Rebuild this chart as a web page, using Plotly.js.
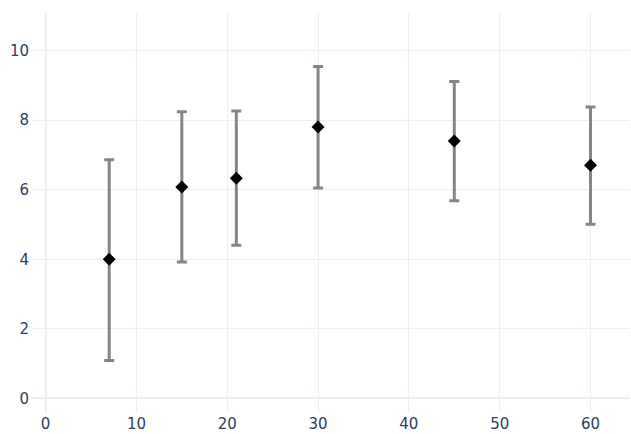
<!DOCTYPE html>
<html>
<head>
<meta charset="utf-8">
<script src="https://cdn.plot.ly/plotly-3.0.1.min.js"></script>
<style>html,body{margin:0;padding:0;background:#fff;}#chart{width:631px;height:434px;}</style>
</head>
<body>
<div id="chart"></div>
<script>
const xValues = [7, 15, 21, 30, 45, 60];
const yValues = [4.0, 6.08, 6.33, 7.8, 7.4, 6.7];
const upperValues = [6.86, 8.24, 8.26, 9.54, 9.11, 8.38];
const lowerValues = [1.09, 3.92, 4.40, 6.05, 5.68, 5.01];

const errPlus = upperValues.map((u, i) => u - yValues[i]);
const errMinus = lowerValues.map((l, i) => yValues[i] - l);

const trace = {
  x: xValues,
  y: yValues,
  type: 'scatter',
  mode: 'markers',
  marker: {symbol: 'diamond', color: '#000000', size: 10},
  error_y: {
    type: 'data',
    symmetric: false,
    array: errPlus,
    arrayminus: errMinus,
    color: '#858585',
    thickness: 3,
    width: 5
  },
  showlegend: false
};

const layout = {
  width: 631,
  height: 434,
  margin: {l: 32, r: 1, t: 13, b: 21},
  paper_bgcolor: '#ffffff',
  plot_bgcolor: '#ffffff',
  font: {family: 'DejaVu Sans, Verdana, sans-serif', size: 15, color: '#2a3f5f'},
  xaxis: {
    range: [-1.5, 64.35],
    dtick: 10,
    tick0: 0,
    gridcolor: '#EBF0F8',
    zeroline: true,
    zerolinecolor: '#EBF0F8',
    zerolinewidth: 2,
    showline: false,
    ticks: '',
    ticklabelstandoff: 0
  },
  yaxis: {
    range: [-0.42, 11.08],
    dtick: 2,
    tick0: 0,
    gridcolor: '#EBF0F8',
    zeroline: true,
    zerolinecolor: '#EBF0F8',
    zerolinewidth: 2,
    showline: false,
    ticks: '',
    ticklabelstandoff: 2
  }
};

Plotly.newPlot('chart', [trace], layout, {displayModeBar: false, staticPlot: true});
</script>
</body>
</html>
